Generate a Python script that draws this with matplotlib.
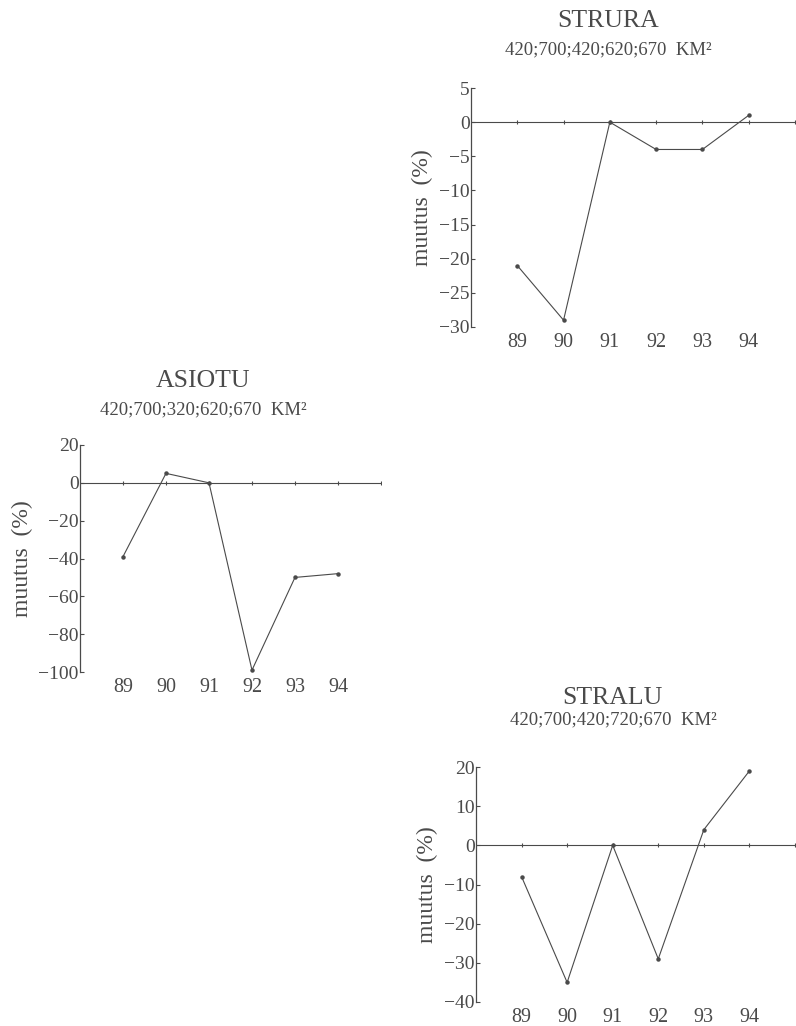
import matplotlib
matplotlib.use("Agg")
import matplotlib.pyplot as plt

# ── Data ──────────────────────────────────────────────────────────────────────
YEARS = [89, 90, 91, 92, 93, 94]

STRURA_VALUES = [-21, -29, 0, -4, -4, 1]
ASIOTU_VALUES = [-39, 5, 0, -99, -50, -48]
STRALU_VALUES = [-8, -35, 0, -29, 4, 19]

STRURA_YTICKS = [5, 0, -5, -10, -15, -20, -25, -30]
ASIOTU_YTICKS = [20, 0, -20, -40, -60, -80, -100]
STRALU_YTICKS = [20, 10, 0, -10, -20, -30, -40]

TITLES = ["STRURA", "ASIOTU", "STRALU"]
SUBTITLES = [
    "420;700;420;620;670  KM²",
    "420;700;320;620;670  KM²",
    "420;700;420;720;670  KM²",
]
YLABEL = "muutus  (%)"

INK = "#4a4a4a"
FONT = "Liberation Serif"

plt.rcParams["font.family"] = [FONT, "DejaVu Serif"]


def draw_panel(fig, rect, values, yticks):
    ax = fig.add_axes(rect)
    ax.set_xlim(88, 95)
    ax.set_ylim(min(yticks), max(yticks))

    # zero line acting as the x axis, with small ticks at every year
    ax.plot([88, 95], [0, 0], color=INK, linewidth=0.8, zorder=2)
    ax.plot(YEARS + [95], [0] * (len(YEARS) + 1), linestyle="none",
            marker="|", markersize=3, markeredgewidth=0.8, color=INK, zorder=2)

    ax.plot(YEARS, values, color=INK, linewidth=0.8, marker="o",
            markersize=2.2, zorder=3)

    for side in ["top", "right", "bottom"]:
        ax.spines[side].set_visible(False)
    ax.spines["left"].set_color(INK)
    ax.spines["left"].set_linewidth(0.9)

    ax.set_yticks(yticks)
    ax.set_yticklabels([f"{v}".replace("-", "\u2212") for v in yticks])
    ax.tick_params(axis="y", direction="in", length=3, width=0.8,
                   colors=INK, labelsize=14, pad=1)
    ax.set_xticks(YEARS)
    ax.set_xticklabels([str(y) for y in YEARS])
    ax.tick_params(axis="x", length=0, labelsize=14.5, colors=INK, pad=4)

    ax.set_ylabel(YLABEL, fontsize=17, color=INK, labelpad=4)
    return ax


fig = plt.figure(figsize=(7.96, 10.26), dpi=100)
fig.patch.set_facecolor("white")

rects = [
    [0.5917, 0.6813, 0.4070, 0.2329],
    [0.1005, 0.3450, 0.3781, 0.2213],
    [0.5980, 0.0234, 0.4007, 0.2290],
]
series = [STRURA_VALUES, ASIOTU_VALUES, STRALU_VALUES]
ticks = [STRURA_YTICKS, ASIOTU_YTICKS, STRALU_YTICKS]
# title centres (figure fraction x) and vertical positions
title_pos = [(0.764, 0.980, 0.951), (0.255, 0.629, 0.600), (0.770, 0.320, 0.298)]

for rect, vals, yt, t, st, (cx, ty, sy) in zip(rects, series, ticks, TITLES,
                                                SUBTITLES, title_pos):
    draw_panel(fig, rect, vals, yt)
    fig.text(cx, ty, t, ha="center", va="center", fontsize=18.5, color=INK)
    fig.text(cx, sy, st, ha="center", va="center", fontsize=13.5, color=INK)

fig.savefig("out.png", dpi=100, facecolor="white")
